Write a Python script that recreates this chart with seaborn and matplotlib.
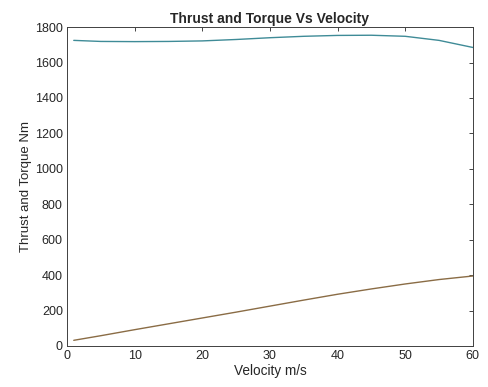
import matplotlib
matplotlib.use("Agg")
import matplotlib.pyplot as plt
import pandas as pd
import seaborn as sns

# ── Data ───────────────────────────────────────────────────────────────────
velocity = [1, 5, 10, 15, 20, 25, 30, 35, 40, 45, 50, 55, 60]
thrust = [1725, 1719, 1718, 1719, 1722, 1730, 1740, 1748, 1753, 1754, 1748, 1725, 1685]
torque = [32, 58, 92, 125, 158, 191, 225, 259, 292, 322, 350, 375, 395]

df = pd.DataFrame({"velocity": velocity, "thrust": thrust, "torque": torque})

sns.set_theme(style="white")
plt.rcParams["font.family"] = ["Liberation Sans", "DejaVu Sans"]

fig = plt.figure(figsize=(4.89, 3.87), dpi=100)
ax = fig.add_axes([0.137, 0.106, 0.830, 0.824])

sns.lineplot(data=df, x="velocity", y="thrust", ax=ax, color="#3f8b97", linewidth=1.0)
sns.lineplot(data=df, x="velocity", y="torque", ax=ax, color="#8a6c45", linewidth=1.0)

ax.set_xlim(0, 60)
ax.set_ylim(0, 1800)
ax.set_xticks(range(0, 61, 10))
ax.set_yticks(range(0, 1801, 200))
ax.tick_params(direction="in", length=3, width=0.6, colors="#262626", pad=3,
               labelsize=9, top=True, right=True, labeltop=False, labelright=False)
for side in ax.spines.values():
    side.set_color("#404040")
    side.set_linewidth(0.7)

ax.set_title("Thrust and Torque Vs Velocity", fontsize=10, fontweight="bold", pad=3)
ax.set_xlabel("Velocity m/s", fontsize=9.8, labelpad=1)
ax.set_ylabel("Thrust and Torque Nm", fontsize=9.5, labelpad=2)

fig.savefig("out.png", dpi=100)
